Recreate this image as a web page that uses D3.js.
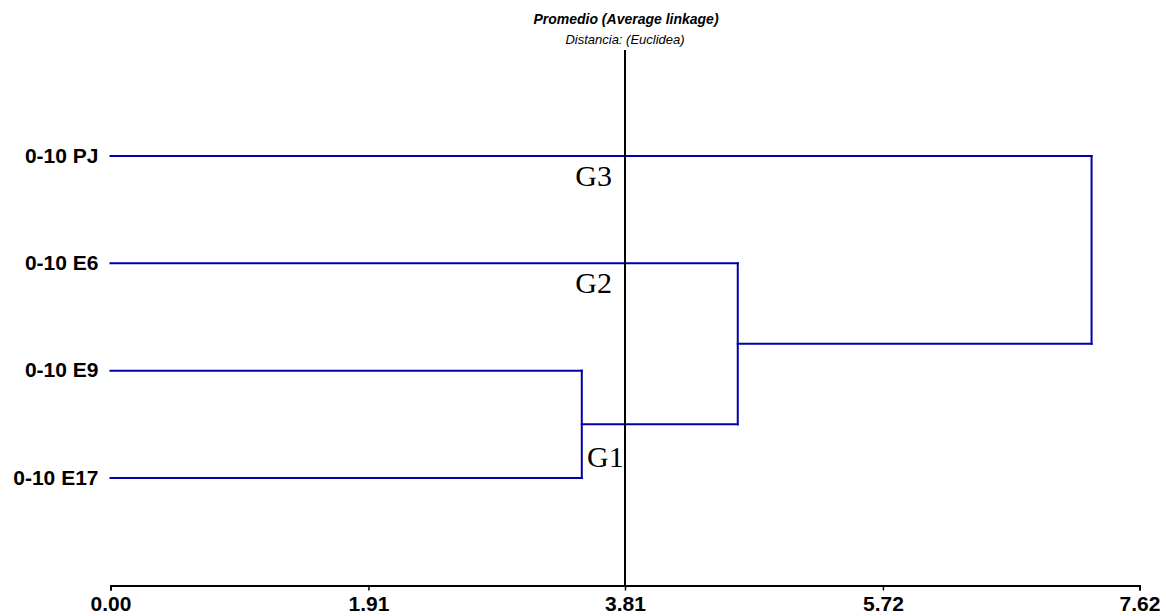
<!DOCTYPE html>
<html>
<head>
<meta charset="utf-8">
<script src="https://cdn.jsdelivr.net/npm/d3@7"></script>
<style>
  body { margin: 0; background: #fff; }
  svg { display: block; font-family: Arial, "Liberation Sans", sans-serif; }
</style>
</head>
<body>
<svg id="viz"></svg>
<script>
const width = 1166
const height = 616

// leaves top to bottom
const leaves = ['0-10 PJ', '0-10 E6', '0-10 E9', '0-10 E17']
// merges: [left child, right child, distance]; children are leaf names or merge index
const mergeA = ['0-10 E9', '0-10 E17']
const mergeB = [0, '0-10 E6']
const mergeC = [1, '0-10 PJ']
const mergeDistances = [3.49, 4.645, 7.265]
const tickValues = [0, 1.91, 3.81, 5.72, 7.62]
const cutDistance = 3.81
const groupLabels = ['G3', 'G2', 'G1']
const groupLeaves = ['0-10 PJ', '0-10 E6', '0-10 E17']

const title = 'Promedio (Average linkage)'
const subtitle = 'Distancia: (Euclidea)'

const margin = { top: 50, left: 110.5, right: 26.5, bottom: 30.5 }
const axisY = height - margin.bottom

const svg = d3.select('#viz').attr('width', width).attr('height', height)

const x = d3
  .scaleLinear()
  .domain([0, 7.62])
  .range([margin.left, width - margin.right])

const y = d3.scalePoint().domain(leaves).range([156, 478])

// build nodes
const merges = [mergeA, mergeB, mergeC].map((m, i) => ({
  children: m,
  dist: mergeDistances[i],
}))

const nodePos = (c) => {
  if (typeof c === 'string') return { x: 0, y: y(c) }
  return { x: merges[c].dist, y: merges[c].y }
}
merges.forEach((m) => {
  const a = nodePos(m.children[0])
  const b = nodePos(m.children[1])
  m.y = (a.y + b.y) / 2
  m.segs = [
    [a.x, a.y, m.dist, a.y],
    [b.x, b.y, m.dist, b.y],
    [m.dist, a.y, m.dist, b.y],
  ]
})

const segs = merges.flatMap((m) => m.segs)

svg
  .append('g')
  .attr('class', 'links')
  .selectAll('line')
  .data(segs)
  .join('line')
  .attr('x1', (d) => x(d[0]))
  .attr('y1', (d) => d[1])
  .attr('x2', (d) => x(d[2]))
  .attr('y2', (d) => d[3])
  .attr('stroke', '#0000a8')
  .attr('stroke-width', 2)
  .attr('stroke-linecap', 'square')

// leaf labels
svg
  .append('g')
  .selectAll('text')
  .data(leaves)
  .join('text')
  .attr('x', x(0) - 12)
  .attr('y', (d) => y(d))
  .attr('dy', '0.32em')
  .attr('text-anchor', 'end')
  .attr('font-size', 21)
  .attr('font-weight', 'bold')
  .text((d) => d)

// axis
const axis = svg
  .append('g')
  .attr('transform', `translate(0, ${axisY})`)
  .call(
    d3
      .axisBottom(x)
      .tickValues(tickValues)
      .tickFormat(d3.format('.2f'))
      .tickSize(5)
      .tickSizeOuter(5)
      .tickPadding(6)
  )
axis.select('.domain').attr('stroke', '#000').attr('stroke-width', 2)
axis.selectAll('.tick line').attr('stroke', '#000').attr('stroke-width', 1.5)
axis
  .selectAll('.tick text')
  .attr('font-size', 21)
  .attr('font-weight', 'bold')
  .attr('font-family', 'Arial, "Liberation Sans", sans-serif')
  .attr('fill', '#000')

// cut line
svg
  .append('line')
  .attr('x1', x(cutDistance))
  .attr('x2', x(cutDistance))
  .attr('y1', margin.top)
  .attr('y2', axisY)
  .attr('stroke', '#000')
  .attr('stroke-width', 2)

// group labels
svg
  .append('g')
  .selectAll('text')
  .data(groupLabels)
  .join('text')
  .attr('x', (d, i) => (i === 2 ? x(cutDistance) - 38 : x(cutDistance) - 13))
  .attr('y', (d, i) => (i === 2 ? y(groupLeaves[i]) - 11 : y(groupLeaves[i]) + 30))
  .attr('text-anchor', (d, i) => (i === 2 ? 'start' : 'end'))
  .attr('font-family', '"Liberation Serif", "Times New Roman", serif')
  .attr('font-size', 30)
  .attr('fill', '#000')
  .text((d) => d)

// titles
svg
  .append('text')
  .attr('x', x(cutDistance) + 1)
  .attr('y', 24)
  .attr('text-anchor', 'middle')
  .attr('font-size', 14)
  .attr('font-weight', 'bold')
  .attr('font-style', 'italic')
  .text(title)

svg
  .append('text')
  .attr('x', x(cutDistance))
  .attr('y', 44)
  .attr('text-anchor', 'middle')
  .attr('font-size', 13)
  .attr('font-style', 'italic')
  .text(subtitle)
</script>
</body>
</html>
